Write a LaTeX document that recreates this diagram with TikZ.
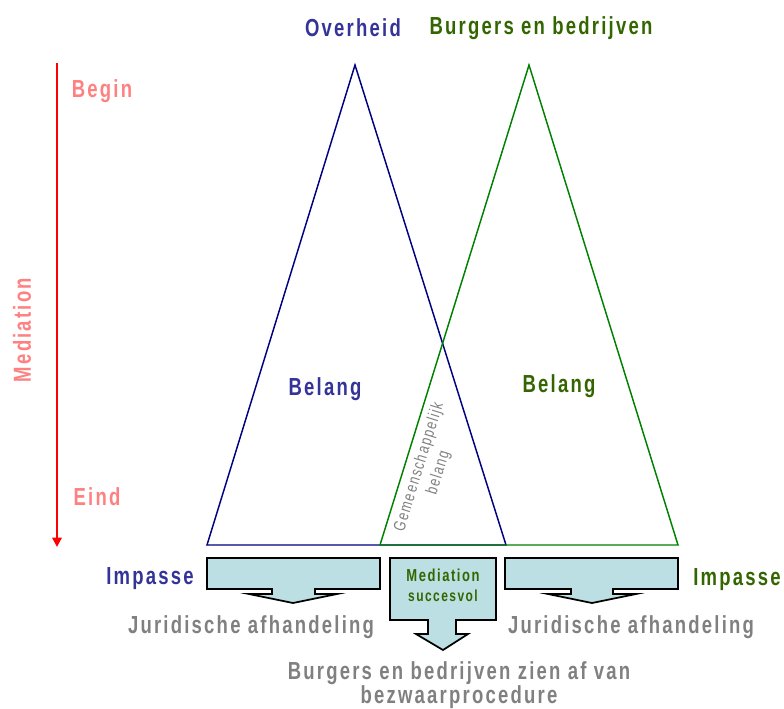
\documentclass[tikz,border=0pt]{standalone}
\usepackage{fontspec}
\setmainfont{Liberation Sans}[FakeStretch=0.75, LetterSpace=9]
\usetikzlibrary{arrows.meta,positioning}
\definecolor{ovblue}{HTML}{333399}
\definecolor{ovline}{HTML}{000080}
\definecolor{bbgreen}{HTML}{336600}
\definecolor{bbline}{HTML}{008000}
\definecolor{medpink}{HTML}{FF8080}
\definecolor{boxfill}{HTML}{BBDFE2}
\definecolor{txtgray}{HTML}{808080}

\begin{document}
\begin{tikzpicture}[x=0.75pt, y=-0.75pt,
  lbl/.style={inner sep=0pt, font=\fontsize{18.5}{18}\selectfont\bfseries, align=center},
  small/.style={inner sep=0pt, font=\fontsize{13}{15}\selectfont\bfseries, align=center},
  tri/.style={line width=1.1pt, line join=miter},
  boxarrow/.style={draw=black, line width=1.3pt, fill=boxfill, line join=miter},
  timearrow/.style={-{Triangle[width=7pt,length=7pt]}, line width=1.5pt, color=red}
]
\useasboundingbox (0,0) rectangle (784,709);
% triangles
\draw[tri, ovline] (355,65) -- (506,545) -- (207,545) -- cycle;
\draw[tri, bbline] (529,65) -- (678,545) -- (380,545) -- cycle;
% titles
\node[lbl, text=ovblue] (ovh) at (353,28) {Overheid};
\node[lbl, text=bbgreen] (bb) at (541,28) {Burgers en bedrijven};
\node[lbl, text=ovblue] (belang1) at (325,389) {Belang};
\node[lbl, text=bbgreen] (belang2) at (559,386) {Belang};
\node[inner sep=0pt, align=center, text=txtgray, font=\fontsize{12.5}{15}\selectfont, rotate=72.8]
  (gem) at (429,470) {Gemeenschappelijk\\belang};
% time axis
\coordinate (tbegin) at (57,63);
\coordinate (tend) at (57,547);
\draw[timearrow] (tbegin) -- (tend);
\node[lbl, text=medpink] (begin) at (102,91) {Begin};
\node[lbl, text=medpink] (eind) at (97,497) {Eind};
\node[lbl, text=medpink, rotate=90] (med) at (22,330) {Mediation};
% outcome arrows
\draw[boxarrow] (207,558) -- (380,558) -- (380,589) -- (315,589) -- (315,594) -- (337,594)
  -- (293,603) -- (249,594) -- (272,594) -- (272,589) -- (207,589) -- cycle;
\draw[boxarrow] (505,558) -- (678,558) -- (678,589) -- (613,589) -- (613,594) -- (636,594)
  -- (592,603) -- (548,594) -- (571,594) -- (571,589) -- (505,589) -- cycle;
\draw[boxarrow] (390,558) -- (496,558) -- (496,620) -- (456,620) -- (456,634) -- (468,634)
  -- (443,650) -- (416,634) -- (428,634) -- (428,620) -- (390,620) -- cycle;
\node[small, text=bbgreen] (medok) at (443,575) {Mediation};
\node[small, text=bbgreen, font=\fontsize{12}{14}\selectfont\bfseries] (succ) at (443,596) {succesvol};
% labels
\node[lbl, text=ovblue] (imp1) at (150,579) {Impasse};
\node[lbl, text=bbgreen] (imp2) at (737,580) {Impasse};
\node[lbl, text=txtgray] (jur1) at (251,627) {Juridische afhandeling};
\node[lbl, text=txtgray] (jur2) at (631,627) {Juridische afhandeling};
\node[lbl, text=txtgray] (afzien) at (459,685)
  {Burgers en bedrijven zien af van\\bezwaarprocedure};
\end{tikzpicture}
\end{document}
